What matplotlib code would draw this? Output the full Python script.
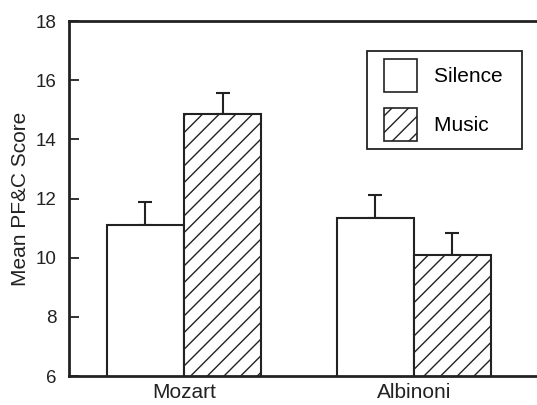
import numpy as np
import matplotlib.pyplot as plt
from matplotlib.patches import Patch, Rectangle
from matplotlib.legend_handler import HandlerPatch

plt.rcParams['font.family'] = ['Liberation Sans', 'DejaVu Sans']
plt.rcParams['hatch.linewidth'] = 1.0

# mean PF&C scores with standard errors
pieces = ['Mozart', 'Albinoni']
silence = [11.12, 11.33]
silence_err = [0.76, 0.78]
music = [14.85, 10.10]
music_err = [0.70, 0.73]

x = np.arange(len(pieces))
w = 0.335
ink = '#222222'

fig = plt.figure(figsize=(5.37, 4.05), dpi=100)
ax = fig.add_axes([0.1285, 0.0716, 0.8715, 0.8765])

ax.bar(x - w / 2, silence, w, color='white', edgecolor=ink,
       linewidth=1.5, zorder=2)
ax.bar(x + w / 2, music, w, color='white', edgecolor=ink,
       linewidth=1.5, hatch='//', zorder=2)
ax.errorbar(x - w / 2, silence, yerr=[np.zeros(2), silence_err], fmt='none',
            ecolor=ink, elinewidth=1.5, capsize=4.7, capthick=1.5, zorder=1)
ax.errorbar(x + w / 2, music, yerr=[np.zeros(2), music_err], fmt='none',
            ecolor=ink, elinewidth=1.5, capsize=4.7, capthick=1.5, zorder=1)

ax.set_xlim(-0.5, 1.535)
ax.set_ylim(6, 18)
ax.set_yticks(range(6, 19, 2))
ax.set_xticks(x)
ax.set_xticklabels(pieces)
ax.tick_params(axis='y', direction='in', length=7.5, width=1.3, pad=9,
               labelsize=13.5, colors=ink)
ax.tick_params(axis='x', length=0, pad=5, labelsize=15, colors=ink)
ax.set_ylabel('Mean PF&C Score', fontsize=15, color=ink, labelpad=4)

for side in ['left', 'top', 'bottom']:
    ax.spines[side].set_linewidth(2)
    ax.spines[side].set_color(ink)
ax.spines['right'].set_visible(False)


def inset_square(legend, orig_handle, xdescent, ydescent, width, height, fontsize):
    # leave some room on the left of each legend swatch
    shift = width - height
    return Rectangle((-xdescent + shift, -ydescent), height, height)


handles = [Patch(facecolor='white', edgecolor=ink, linewidth=1.2),
           Patch(facecolor='white', edgecolor=ink, linewidth=1.2, hatch='//')]
leg = ax.legend(handles, ['Silence  ', 'Music  '], loc='upper right',
                bbox_to_anchor=(0.968, 0.9155), borderaxespad=0,
                fontsize=15, handlelength=2.02, handleheight=2.06,
                handletextpad=0.82, labelspacing=0.77, borderpad=0.38,
                fancybox=False, framealpha=1,
                handler_map={Patch: HandlerPatch(patch_func=inset_square)})
leg.get_frame().set_edgecolor(ink)
leg.get_frame().set_linewidth(1.3)

fig.savefig('out.png', dpi=100)
